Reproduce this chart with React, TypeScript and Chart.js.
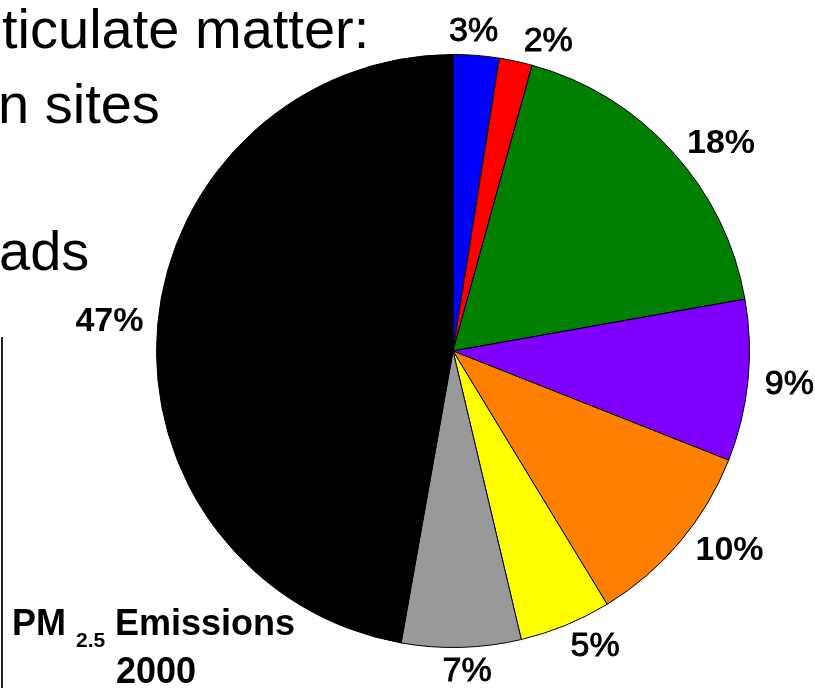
import React, { useEffect, useRef } from "react";
import { Chart, registerables } from "chart.js";

Chart.register(...registerables);

const categories = ["Source A", "Source B", "Source C", "Source D", "Source E", "Source F", "Source G", "Source H"];
const shares = [2.5, 1.8, 17.9, 8.8, 10.3, 5.0, 6.5, 47.2];
const percentLabels = ["3%", "2%", "18%", "9%", "10%", "5%", "7%", "47%"];
const sliceColors = ["#0000FF", "#FF0000", "#007F00", "#7F00FF", "#FF7F00", "#FFFF00", "#999999", "#000000"];
const labelWeights = ["normal", "normal", "bold", "normal", "bold", "normal", "normal", "bold"];
const labelAngleNudgeDeg = [-0.8, 4.8, 4.4, -0.3, -4.5, -3.4, -0.9, 0];
const slideLines = ["ticulate matter:", "n sites", "ads"];
const titleMain = "PM";
const titleSub = "2.5";
const titleRest = "Emissions";
const titleYear = "2000";

const FONT = "'Liberation Sans', Arial, Helvetica, sans-serif";

const overlayPlugin = {
  id: "overlay",
  afterDatasetsDraw(chart: any) {
    const ctx = chart.ctx as CanvasRenderingContext2D;
    const meta = chart.getDatasetMeta(0);
    ctx.save();
    ctx.fillStyle = "#000";
    ctx.strokeStyle = "#000";
    meta.data.forEach((arc: any, i: number) => {
      const p = arc.getProps(["x", "y", "startAngle", "endAngle", "outerRadius"], true);
      const mid = (p.startAngle + p.endAngle) / 2 + (labelAngleNudgeDeg[i] * Math.PI) / 180;
      ctx.font = `${labelWeights[i]} 34px ${FONT}`;
      const w = ctx.measureText(percentLabels[i]).width;
      const d = p.outerRadius + 23 + 0.75 * Math.abs(Math.cos(mid)) * (w / 2);
      ctx.textAlign = "center";
      ctx.textBaseline = "middle";
      const tx = p.x + d * Math.cos(mid);
      const ty = p.y + d * Math.sin(mid) + 1;
      ctx.fillText(percentLabels[i], tx, ty);
      if (labelWeights[i] === "normal") {
        ctx.lineWidth = 0.9;
        ctx.strokeText(percentLabels[i], tx, ty);
      }
    });
    ctx.restore();
  },
  afterDraw(chart: any) {
    const ctx = chart.ctx as CanvasRenderingContext2D;
    ctx.save();
    ctx.fillStyle = "#000";
    ctx.textAlign = "left";
    ctx.textBaseline = "alphabetic";
    ctx.font = `56px ${FONT}`;
    ctx.fillText(slideLines[0], 2, 48);
    ctx.fillText(slideLines[1], -2, 123);
    ctx.fillText(slideLines[2], -1, 270);

    ctx.strokeStyle = "#222";
    ctx.lineWidth = 2;
    ctx.beginPath();
    ctx.moveTo(2, 337);
    ctx.lineTo(2, 688);
    ctx.stroke();

    const base = 635;
    ctx.font = `bold 36px ${FONT}`;
    ctx.fillText(titleMain, 12, base);
    ctx.font = `bold 21px ${FONT}`;
    ctx.fillText(titleSub, 76, base + 12);
    ctx.font = `bold 36px ${FONT}`;
    ctx.fillText(titleRest, 115, base);
    ctx.textAlign = "center";
    ctx.fillText(titleYear, 156, 683);
    ctx.restore();
  },
};

export default function App() {
  const ref = useRef<HTMLCanvasElement | null>(null);
  useEffect(() => {
    if (!ref.current) return;
    const chart = new Chart(ref.current, {
      type: "pie",
      data: {
        labels: categories,
        datasets: [
          {
            data: shares,
            backgroundColor: sliceColors,
            borderColor: "#000",
            borderWidth: 1,
          },
        ],
      },
      options: {
        responsive: false,
        animation: false,
        devicePixelRatio: 1,
        layout: { padding: { left: 156, right: 65, top: 54, bottom: 40 } },
        plugins: { legend: { display: false }, tooltip: { enabled: false } },
      },
      plugins: [overlayPlugin],
    });
    return () => chart.destroy();
  }, []);
  return (
    <div style={{ position: "fixed", left: 0, top: 0, width: 815, height: 688, background: "#fff" }}>
      <canvas ref={ref} width={815} height={688} style={{ display: "block" }} />
    </div>
  );
}
